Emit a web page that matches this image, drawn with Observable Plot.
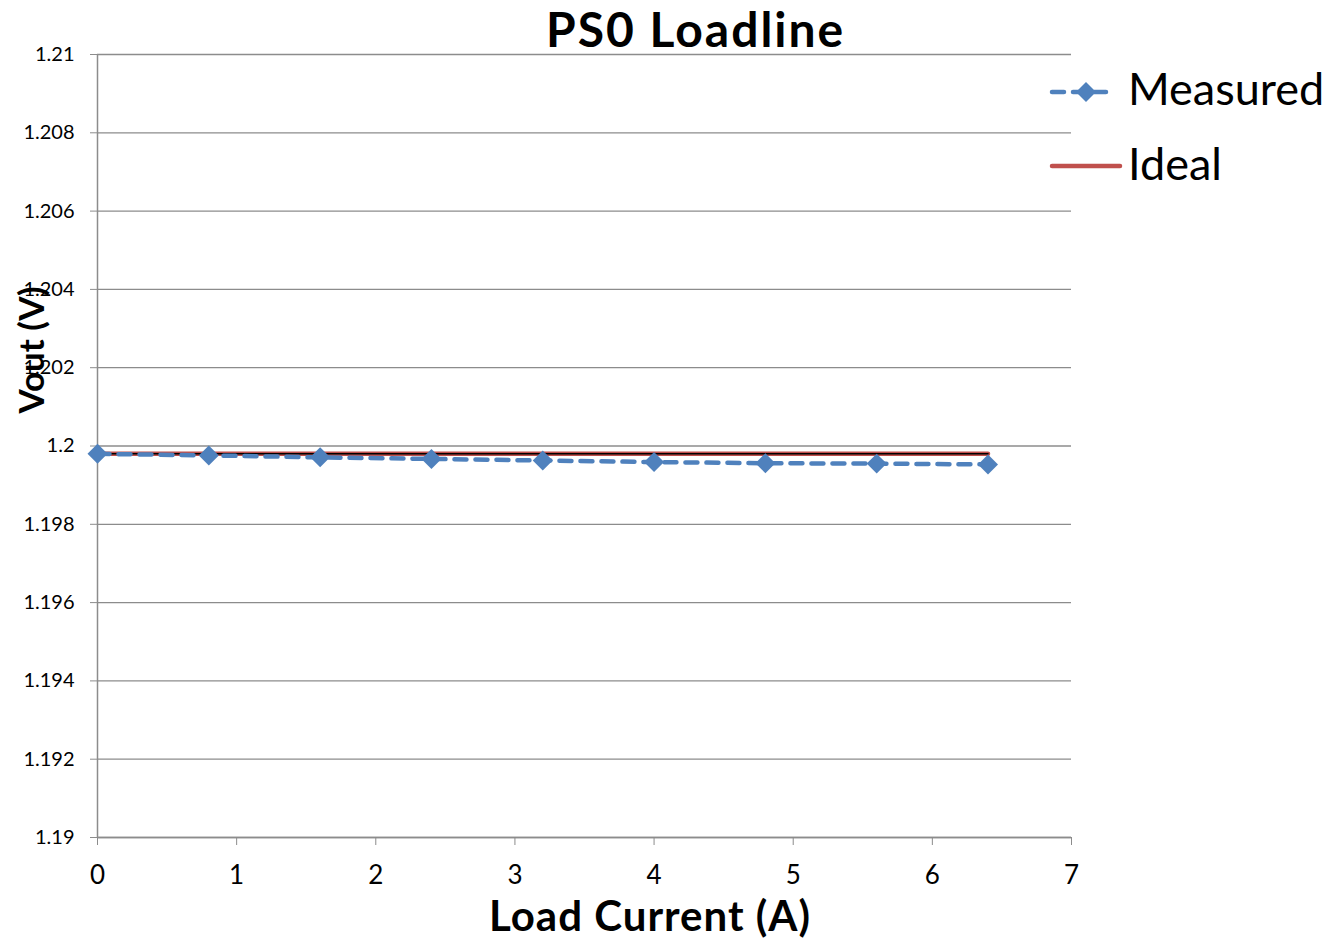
<!DOCTYPE html>
<html><head><meta charset="utf-8">
<script src="https://cdn.jsdelivr.net/npm/d3@7"></script>
<script src="https://cdn.jsdelivr.net/npm/@observablehq/plot@0.6"></script>
<style>
body{margin:0;background:#fff;font-family:Lato,"Open Sans",sans-serif;}
#wrap{position:relative;width:1331px;height:938px;}
.lbl{position:absolute;color:#000;white-space:nowrap;}
</style></head>
<body><div id="wrap"></div>
<script>
const loadCurrent = [0, 0.8, 1.6, 2.4, 3.2, 4.0, 4.8, 5.6, 6.4];
const measuredVout = [1.19980, 1.19976, 1.19971, 1.19967, 1.19963, 1.19959, 1.19956, 1.19955, 1.19953];
const idealVout = [1.1998, 1.1998, 1.1998, 1.1998, 1.1998, 1.1998, 1.1998, 1.1998, 1.1998];
const yTicks = [1.19, 1.192, 1.194, 1.196, 1.198, 1.2, 1.202, 1.204, 1.206, 1.208, 1.21];
const xTicks = [0, 1, 2, 3, 4, 5, 6, 7];
const title = "PS0 Loadline";
const xLabel = "Load Current (A)";
const yLabel = "Vout (V)";
const seriesNames = ["Measured", "Ideal"];

const measured = loadCurrent.map((x, i) => ({x, y: measuredVout[i]}));
const ideal = loadCurrent.map((x, i) => ({x, y: idealVout[i]}));
const blue = "#4f81bd", red = "#c0504d", grid = "#8c8c8c";

const chart = Plot.plot({
  width: 1331, height: 938,
  marginLeft: 97, marginRight: 260, marginTop: 54, marginBottom: 101,
  style: {fontFamily: "Lato, 'Open Sans', sans-serif", background: "#fff"},
  x: {domain: [0, 7]},
  y: {domain: [1.19, 1.21]},
  marks: [
    Plot.gridY(yTicks, {stroke: grid, strokeOpacity: 1, strokeWidth: 1.3}),
    Plot.ruleX([0], {stroke: grid, strokeWidth: 1.5}),
    Plot.ruleY([1.19], {stroke: grid, strokeWidth: 1.5}),
    Plot.axisY(yTicks, {tickSize: 7, tickPadding: 16, stroke: grid, fontSize: 20, tickFormat: d => String(+d.toFixed(3)), label: null}),
    Plot.axisX(xTicks, {tickSize: 8, tickPadding: 20, stroke: grid, fontSize: 26, tickFormat: d => String(d), label: null}),
    Plot.line(ideal, {x: "x", y: "y", stroke: red, strokeWidth: 4.5}),
    Plot.line(ideal, {x: "x", y: "y", stroke: "#000", strokeWidth: 1.5}),
    Plot.line(measured, {x: "x", y: "y", stroke: blue, strokeWidth: 4.5, strokeDasharray: "12,9", strokeLinecap: "round"}),
    Plot.dot(measured, {x: "x", y: "y", symbol: "diamond2", r: 9, fill: blue, stroke: "none"})
  ]
});
const wrap = document.getElementById("wrap");
chart.style.position = "absolute"; chart.style.left = "0"; chart.style.top = "0";
wrap.appendChild(chart);

function addLabel(text, css) {
  const d = document.createElement("div");
  d.className = "lbl"; d.textContent = text;
  Object.assign(d.style, css);
  wrap.appendChild(d);
  return d;
}
addLabel(title, {left: "546px", top: "6px", fontSize: "48px", fontWeight: "bold", lineHeight: "46px", letterSpacing: "2px"});
addLabel(xLabel, {left: "489px", top: "896px", fontSize: "42px", fontWeight: "bold", lineHeight: "38px", letterSpacing: "1px"});
addLabel(yLabel, {left: "30px", top: "350px", fontSize: "35px", fontWeight: "bold", lineHeight: "38px",
  transform: "translate(-50%,-50%) rotate(-90deg)"});

// legend
const ns = "http://www.w3.org/2000/svg";
const leg = document.createElementNS(ns, "svg");
leg.setAttribute("width", 90); leg.setAttribute("height", 120);
Object.assign(leg.style, {position: "absolute", left: "1040px", top: "60px"});
leg.innerHTML =
  `<line x1="12" x2="72" y1="32" y2="32" stroke="${blue}" stroke-width="4.5" stroke-dasharray="12,9" stroke-linecap="round"/>` +
  `<path d="M46,22 L56,32 L46,42 L36,32 Z" fill="${blue}"/>` +
  `<line x1="12" x2="80" y1="106" y2="106" stroke="${red}" stroke-width="4.5" stroke-linecap="round"/>`;
wrap.appendChild(leg);
addLabel(seriesNames[0], {left: "1128px", top: "66px", fontSize: "45px", lineHeight: "45px"});
addLabel(seriesNames[1], {left: "1128px", top: "141px", fontSize: "45px", lineHeight: "45px"});
</script></body></html>
